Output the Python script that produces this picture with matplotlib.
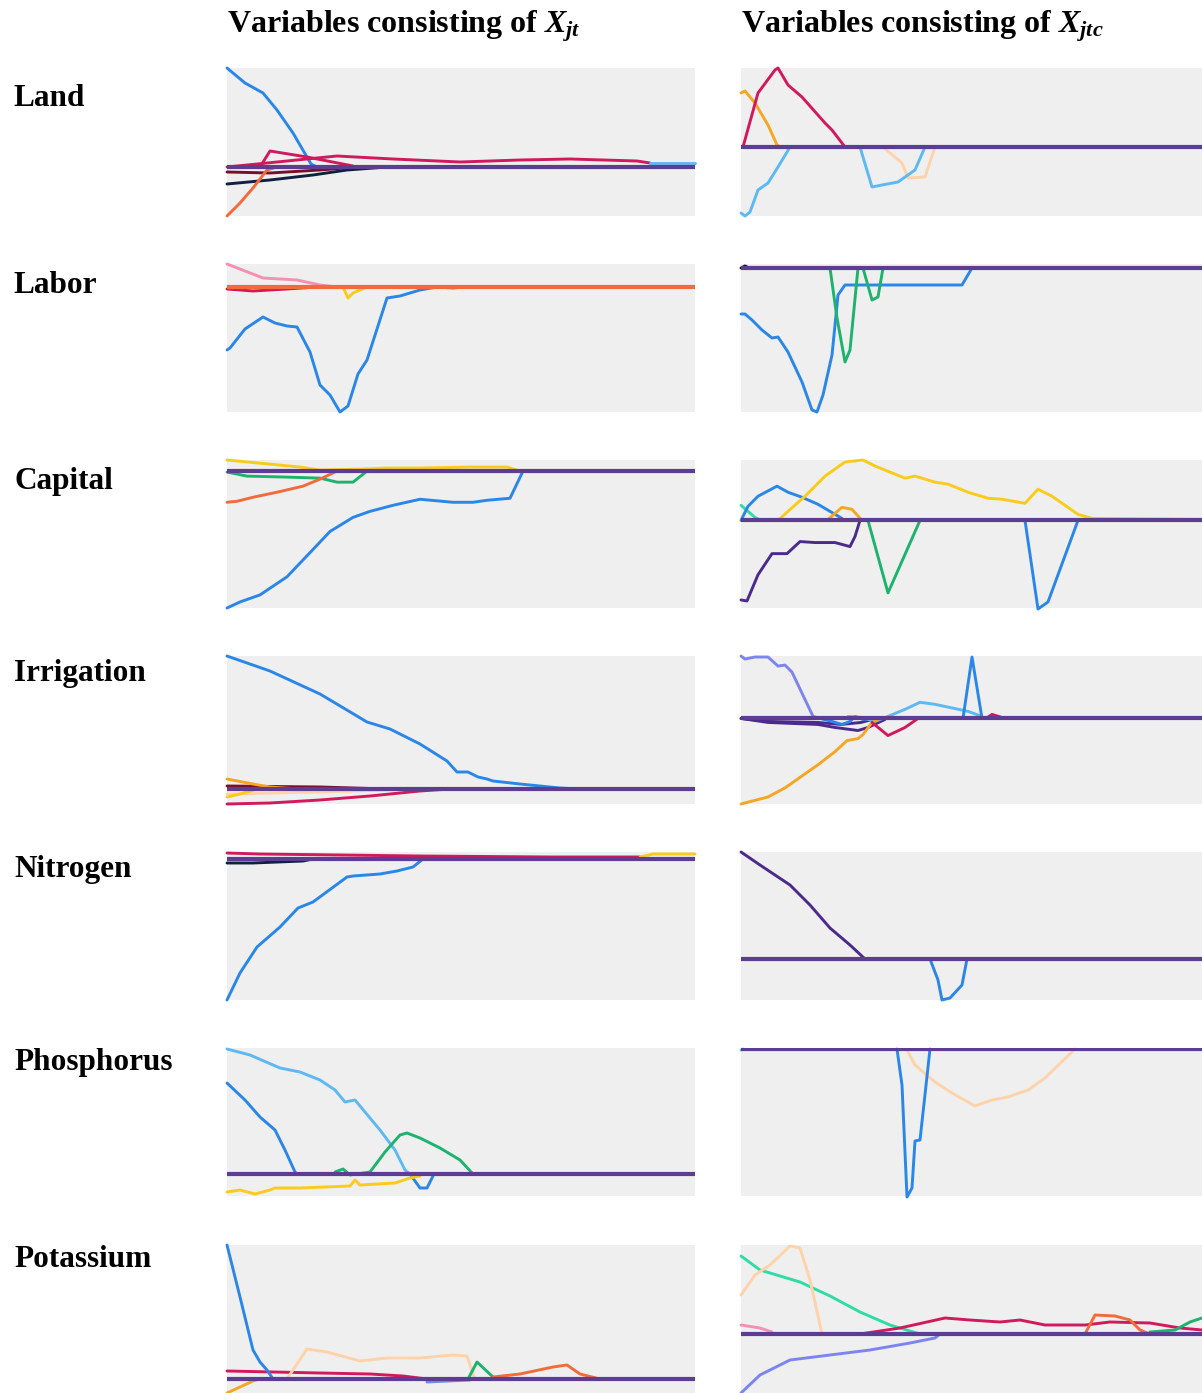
import matplotlib
matplotlib.use("Agg")
import matplotlib.pyplot as plt

# --- DATA (step index along the path, coefficient value) ---
rows = ["Land", "Labor", "Capital", "Irrigation", "Nitrogen", "Phosphorus", "Potassium"]
col_titles = [r"Variables consisting of $X_{jt}$", r"Variables consisting of $X_{jtc}$"]

land_jt = [
    ("navy", [0, 43, 86, 120, 160], [-0.17, -0.13, -0.08, -0.03, 0]),
    ("maroon", [0, 43, 93, 130], [-0.05, -0.06, -0.03, 0]),
    ("orangered", [0, 13, 26, 40, 50], [-0.49, -0.36, -0.21, -0.03, 0]),
    ("blue", [0, 18, 36, 50, 66, 84, 90], [0.99, 0.84, 0.74, 0.57, 0.34, 0.03, 0]),
    ("crimson", [33, 43, 80, 126], [0, 0.16, 0.10, 0.01]),
    ("crimson", [0, 40, 110, 166, 233, 293, 343, 410, 423], [0, 0.04, 0.11, 0.08, 0.05, 0.07, 0.08, 0.06, 0.04]),
    ("lightblue", [423, 468], [0.04, 0.04]),
]
land_jtc = [
    ("orange", [0, 4, 14, 27, 36, 40], [0.54, 0.56, 0.44, 0.22, 0.02, 0]),
    ("crimson", [2, 17, 34, 37, 47, 61, 84, 91, 104], [0, 0.54, 0.77, 0.79, 0.62, 0.50, 0.24, 0.17, 0]),
    ("lightblue", [0, 4, 9, 17, 27, 37, 49], [-0.66, -0.69, -0.65, -0.43, -0.36, -0.20, 0]),
    ("peach", [142, 161, 167, 184, 194], [0, -0.16, -0.31, -0.30, 0]),
    ("lightblue", [119, 131, 141, 157, 174, 184], [0, -0.40, -0.38, -0.35, -0.23, 0]),
]
labor_jt = [
    ("pink", [0, 36, 70, 93, 110], [0.23, 0.09, 0.07, 0.02, 0]),
    ("crimson", [0, 26, 60, 90], [-0.02, -0.04, -0.02, 0]),
    ("yellow", [116, 121, 126, 140], [0, -0.11, -0.06, 0]),
    ("blue", [0, 3, 18, 36, 48, 60, 70, 83, 93, 103, 113, 121, 131, 140, 160, 173, 183, 193, 210, 226, 236, 248],
     [-0.63, -0.61, -0.42, -0.30, -0.36, -0.39, -0.40, -0.65, -0.98, -1.08, -1.25, -1.19, -0.87, -0.73,
      -0.11, -0.09, -0.06, -0.03, 0, -0.01, 0, 0]),
]
labor_jtc = [
    ("black", [0, 4, 8], [0, 0.02, 0]),
    ("blue", [0, 4, 11, 21, 31, 37, 47, 61, 71, 76, 82, 91, 97, 104, 221, 231],
     [-0.46, -0.46, -0.52, -0.62, -0.70, -0.69, -0.84, -1.14, -1.42, -1.44, -1.27, -0.87, -0.27, -0.17, -0.17, 0]),
    ("green", [89, 96, 104, 109, 117, 122, 131, 137, 142], [0, -0.50, -0.94, -0.82, 0, 0, -0.32, -0.29, 0]),
]
capital_jt = [
    ("yellow", [0, 73, 93, 136, 160, 193, 243, 280, 293], [0.11, 0.04, 0.01, 0.02, 0.03, 0.03, 0.04, 0.04, 0]),
    ("green", [0, 20, 60, 93, 110, 126, 140], [-0.01, -0.05, -0.06, -0.07, -0.11, -0.11, 0]),
    ("orangered", [0, 10, 26, 50, 76, 93, 110], [-0.31, -0.30, -0.26, -0.21, -0.15, -0.08, 0]),
    ("blue", [0, 13, 33, 60, 83, 103, 126, 143, 166, 193, 226, 246, 260, 283, 296],
     [-1.36, -1.30, -1.23, -1.05, -0.81, -0.60, -0.46, -0.40, -0.34, -0.28, -0.31, -0.31, -0.29, -0.27, 0]),
]
capital_jtc = [
    ("mint", [0, 14, 20], [0.15, 0.03, 0]),
    ("blue", [0, 7, 17, 36, 47, 61, 77, 101], [0, 0.14, 0.24, 0.34, 0.28, 0.23, 0.16, 0.02]),
    ("yellow", [37, 47, 64, 84, 104, 122, 134, 164, 174, 194, 207, 227, 247, 261, 284, 297, 311, 337, 351, 461],
     [0, 0.09, 0.24, 0.44, 0.58, 0.60, 0.54, 0.42, 0.44, 0.38, 0.36, 0.28, 0.22, 0.21, 0.17, 0.31, 0.24,
      0.06, 0.02, 0.01]),
    ("orange", [87, 101, 111, 121], [0.01, 0.13, 0.11, 0]),
    ("darkpurple", [0, 6, 17, 31, 46, 59, 74, 94, 109, 114, 119],
     [-0.79, -0.80, -0.54, -0.33, -0.33, -0.21, -0.22, -0.22, -0.26, -0.16, 0]),
    ("green", [127, 147, 179], [0, -0.72, 0]),
    ("blue", [284, 297, 307, 337], [0, -0.88, -0.81, 0]),
]
irrigation_jt = [
    ("peach", [0, 93, 193], [-0.05, -0.03, 0]),
    ("maroon", [0, 93, 160], [0.03, 0.02, 0]),
    ("orange", [0, 26, 43, 70], [0.10, 0.05, 0.02, 0]),
    ("yellow", [0, 13, 30], [-0.08, -0.05, 0]),
    ("crimson", [0, 43, 93, 143, 193, 223], [-0.15, -0.14, -0.11, -0.07, -0.02, 0]),
    ("blue", [0, 43, 93, 140, 163, 193, 220, 230, 241, 251, 260, 266, 293, 333, 353],
     [1.33, 1.18, 0.95, 0.67, 0.60, 0.45, 0.28, 0.17, 0.17, 0.12, 0.10, 0.08, 0.05, 0.01, 0]),
]
irrigation_jtc = [
    ("periwinkle", [0, 4, 14, 27, 37, 44, 51, 72, 79], [0.62, 0.59, 0.61, 0.61, 0.52, 0.53, 0.46, 0.02, 0]),
    ("darkpurple", [0, 27, 77, 94, 117, 127, 144], [0, -0.04, -0.06, -0.09, -0.12, -0.09, -0.01]),
    ("darkpurple", [0, 27, 77, 100, 120, 135], [0, -0.03, -0.04, -0.06, -0.04, 0]),
    ("blue", [79, 91, 101, 109, 114, 122, 134], [0, -0.03, -0.06, -0.03, 0.02, -0.01, 0]),
    ("lightblue", [107, 121, 134, 147, 164, 179, 194, 227, 241], [0.02, 0.01, -0.03, 0.02, 0.09, 0.16, 0.14, 0.07, 0.02]),
    ("orange", [0, 27, 44, 77, 94, 106, 117, 122, 131, 139],
     [-0.85, -0.78, -0.69, -0.46, -0.33, -0.22, -0.20, -0.16, -0.04, 0]),
    ("crimson", [131, 147, 164, 177], [-0.04, -0.17, -0.09, 0]),
    ("crimson", [245, 251, 264], [0, 0.04, 0]),
    ("blue", [222, 231, 241], [0, 0.61, 0]),
]
nitrogen_jt = [
    ("crimson", [0, 33, 193, 326, 413], [0.06, 0.05, 0.03, 0.02, 0.02]),
    ("yellow", [413, 426, 468], [0.02, 0.05, 0.05]),
    ("navy", [0, 26, 76, 86], [-0.04, -0.04, -0.02, 0]),
    ("blue", [0, 13, 30, 53, 71, 86, 120, 126, 153, 170, 186, 196],
     [-1.41, -1.14, -0.88, -0.68, -0.49, -0.43, -0.18, -0.17, -0.15, -0.12, -0.08, 0]),
]
nitrogen_jtc = [
    ("darkpurple", [0, 19, 49, 69, 89, 109, 124], [1.07, 0.94, 0.74, 0.54, 0.31, 0.14, 0]),
    ("blue", [189, 197, 201, 209, 221, 226], [0, -0.21, -0.41, -0.39, -0.26, 0]),
]
phosphorus_jt = [
    ("lightblue", [0, 23, 53, 73, 93, 108, 118, 128, 138, 153, 168, 178, 183],
     [1.25, 1.19, 1.06, 1.02, 0.94, 0.84, 0.72, 0.74, 0.62, 0.44, 0.24, 0.04, 0]),
    ("blue", [0, 18, 33, 48, 58, 68, 70], [0.91, 0.74, 0.57, 0.44, 0.24, 0.02, 0]),
    ("blue", [183, 193, 200, 206], [0, -0.14, -0.14, -0.02]),
    ("green", [108, 116, 123, 143, 158, 173, 180, 193, 213, 233, 246],
     [0.02, 0.05, -0.01, 0.02, 0.22, 0.39, 0.41, 0.36, 0.26, 0.14, 0]),
    ("yellow", [0, 13, 28, 43, 48, 73, 123, 128, 133, 168, 183, 193],
     [-0.18, -0.16, -0.20, -0.16, -0.14, -0.14, -0.12, -0.06, -0.11, -0.09, -0.04, -0.02]),
]
phosphorus_jtc = [
    ("mint", [0, 2], [-0.01, 0]),
    ("peach", [166, 174, 194, 211, 234, 251, 267, 287, 304, 334],
     [-0.01, -0.16, -0.33, -0.44, -0.57, -0.51, -0.48, -0.41, -0.29, 0]),
    ("blue", [156, 161, 166, 171, 174, 179, 189], [0, -0.36, -1.48, -1.39, -0.92, -0.91, 0]),
]
potassium_jt = [
    ("orange", [0, 13, 26, 32], [-0.14, -0.08, -0.02, 0]),
    ("crimson", [0, 93, 143, 176, 200], [0.08, 0.06, 0.05, 0.03, 0]),
    ("periwinkle", [200, 243], [-0.03, -0.01]),
    ("peach", [60, 80, 100, 133, 160, 193, 226, 240, 246, 248], [0, 0.30, 0.27, 0.18, 0.21, 0.21, 0.24, 0.23, 0.05, 0]),
    ("green", [241, 250, 266], [0, 0.17, 0.02]),
    ("orangered", [266, 293, 326, 340, 353, 373], [0.02, 0.05, 0.12, 0.14, 0.05, 0]),
    ("blue", [0, 13, 26, 33, 40, 46], [1.34, 0.82, 0.29, 0.17, 0.09, 0]),
]
potassium_jtc = [
    ("pink", [0, 19, 31], [0.09, 0.06, 0.02]),
    ("mint", [0, 19, 39, 59, 89, 119, 149, 179], [0.78, 0.64, 0.58, 0.52, 0.38, 0.22, 0.09, 0]),
    ("peach", [0, 14, 29, 49, 59, 69, 81], [0.39, 0.59, 0.69, 0.88, 0.86, 0.54, 0]),
    ("crimson", [119, 159, 204, 229, 259, 279, 304, 344, 369, 409, 439, 461],
     [0, 0.06, 0.16, 0.14, 0.12, 0.14, 0.09, 0.09, 0.12, 0.11, 0.06, 0.04]),
    ("orangered", [344, 354, 374, 389, 399, 409], [0, 0.19, 0.18, 0.14, 0.04, 0]),
    ("green", [409, 434, 449, 461], [0.02, 0.04, 0.12, 0.16]),
    ("periwinkle", [0, 19, 49, 89, 129, 169, 194, 199], [-0.59, -0.41, -0.26, -0.21, -0.16, -0.09, -0.04, 0]),
]

panels = [
    (land_jt, land_jtc),
    (labor_jt, labor_jtc),
    (capital_jt, capital_jtc),
    (irrigation_jt, irrigation_jtc),
    (nitrogen_jt, nitrogen_jtc),
    (phosphorus_jt, phosphorus_jtc),
    (potassium_jt, potassium_jtc),
]

# --- STYLE / LAYOUT ---
colors = {
    "blue": "#2A86E8", "lightblue": "#5DB9F2", "crimson": "#D1195D", "orange": "#F5A623",
    "orangered": "#F26B3A", "yellow": "#F9CC1C", "green": "#1DB36E", "mint": "#2EDCA6",
    "peach": "#FFD3AA", "pink": "#F491B2", "maroon": "#7A1028", "navy": "#10203F",
    "darkpurple": "#4B2A8C", "periwinkle": "#7C84EE", "black": "#111111",
}
zero_colors = ["#5C3D91", "#F26B3A", "#5C3D91", "#5C3D91", "#5C3D91", "#5C3D91", "#5C3D91"]
ylims = [
    ((-0.49, 0.99), (-0.69, 0.79)),
    ((-1.25, 0.23), (-1.44, 0.04)),
    ((-1.36, 0.11), (-0.87, 0.60)),
    ((-0.15, 1.33), (-0.85, 0.62)),
    ((-1.41, 0.07), (-0.41, 1.07)),
    ((-0.22, 1.26), (-1.47, 0.01)),
    ((-0.14, 1.34), (-0.59, 0.89)),
]
panel_tops = [68, 264, 460, 656, 852, 1048, 1245]
label_baselines = [106, 293, 489, 681, 877, 1070, 1267]
W, H = 1202, 1393
panel_h = 148
col_x = [(227, 468, 468), (741, 461, 461)]  # left px, width px, x-range

plt.rcParams["mathtext.fontset"] = "custom"
plt.rcParams["mathtext.it"] = "Liberation Serif:bold:italic"
plt.rcParams["mathtext.rm"] = "Liberation Serif:bold"
plt.rcParams["mathtext.bf"] = "Liberation Serif:bold"

fig = plt.figure(figsize=(W / 100, H / 100), dpi=100)
fig.patch.set_facecolor("white")

for r, (name, pair) in enumerate(zip(rows, panels)):
    top = panel_tops[r]
    h = min(panel_h, H - top)
    for c in range(2):
        left, width, xr = col_x[c]
        ax = fig.add_axes([left / W, 1 - (top + h) / H, width / W, h / H])
        ax.set_facecolor("#EFEFEF")
        for key, xs, ys in pair[c]:
            ax.plot(xs, ys, color=colors[key], lw=2.1, solid_joinstyle="round",
                    solid_capstyle="round", clip_on=False, zorder=2)
        ax.axhline(0, color=zero_colors[r] if c == 0 else "#5C3D91", lw=3.0, zorder=3)
        ax.set_xlim(0, xr)
        ax.set_ylim(*ylims[r][c])
        ax.set_xticks([])
        ax.set_yticks([])
        for s in ax.spines.values():
            s.set_visible(False)
    fig.text(14 / W, 1 - label_baselines[r] / H, name, fontsize=22.5, fontweight="bold",
             family="Liberation Serif", va="baseline", ha="left")

for c, t in enumerate(col_titles):
    fig.text(col_x[c][0] / W, 1 - 32 / H, t, fontsize=23, fontweight="bold",
             family="Liberation Serif", va="baseline", ha="left")

fig.savefig("out.png", dpi=100)
